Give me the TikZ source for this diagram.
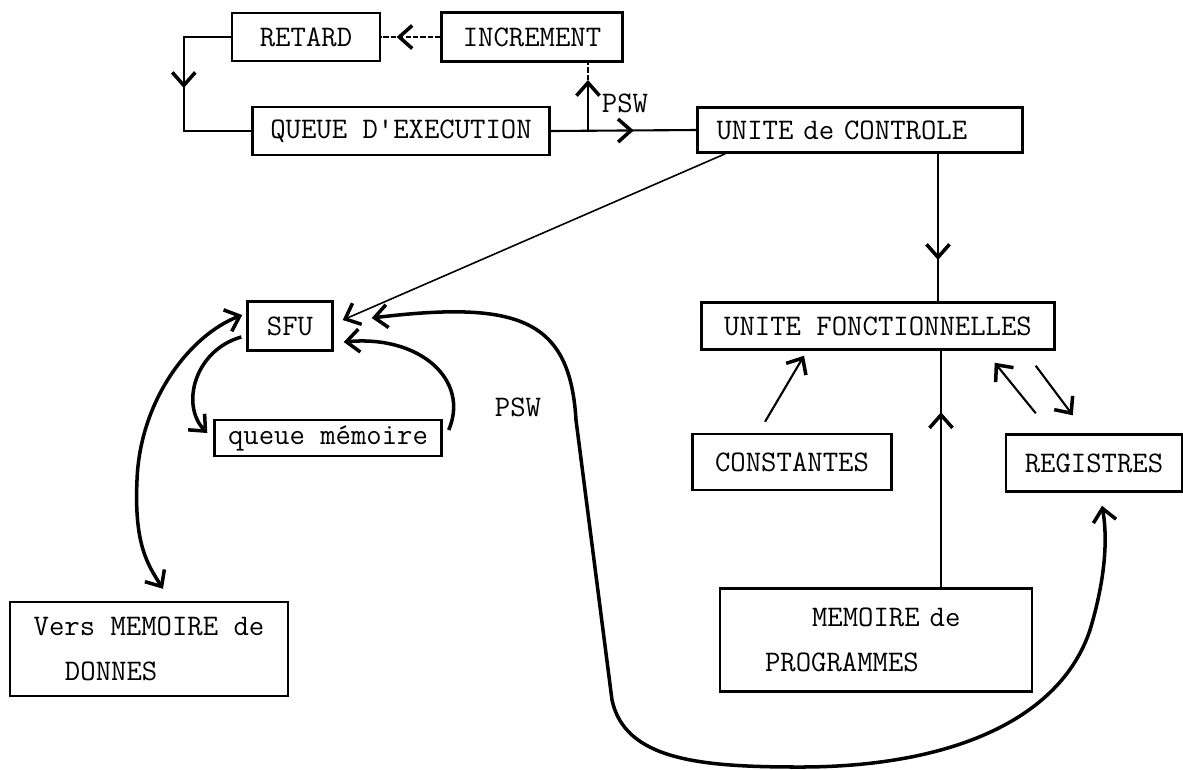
\documentclass[tikz,border=0pt]{standalone}
\usepackage{fontspec}
\usetikzlibrary{arrows.meta,calc,decorations.markings}

\begin{document}
\begin{tikzpicture}[x=0.02cm,y=-0.02cm,
  >={Straight Barb[length=2.6mm,width=4.6mm,line width=2pt]},
  bloc/.style={draw,line width=1.4pt,inner sep=0pt,font=\fontsize{17}{26}\ttfamily},
  etiq/.style={inner sep=0pt,font=\fontsize{17}{26}\ttfamily},
  lien/.style={line width=1.2pt},
  courbe/.style={line width=2pt},
  pointille/.style={line width=0.6pt,dash pattern=on 3pt off 1.2pt},
  flechemil/.style={decoration={markings,mark=at position #1 with {\arrow{>}}},postaction={decorate}}]

\useasboundingbox (0,0) rectangle (1183,769);

\node[bloc,minimum width=2.96cm,minimum height=0.96cm] (retard) at (306,37) {RETARD};
\node[bloc,minimum width=3.62cm,minimum height=0.98cm] (increment) at (532,37) {INCREMENT};
\node[bloc,minimum width=5.94cm,minimum height=0.96cm] (queue) at (401,131) {QUEUE D'EXECUTION};
\node[bloc,minimum width=6.5cm,minimum height=0.9cm,text width=5.74cm,align=left] (controle) at (860,130) {UNITE de CONTROLE};

\node[bloc,minimum width=1.7cm,minimum height=0.98cm] (sfu) at (290,326) {SFU};
\node[bloc,minimum width=4.54cm,minimum height=0.72cm] (qmem) at (328,438) {queue mémoire};
\node[bloc,minimum width=5.56cm,minimum height=1.88cm,align=left] (donnes) at (149,649) {Vers MEMOIRE de\\\hspace*{1.05em}DONNES};

\node[bloc,minimum width=7.06cm,minimum height=0.94cm] (uf) at (878,326) {UNITE FONCTIONNELLES};
\node[bloc,minimum width=3.98cm,minimum height=1.12cm] (cst) at (792,462) {CONSTANTES};
\node[bloc,minimum width=3.52cm,minimum height=1.14cm] (reg) at (1094,463) {REGISTRES};
\node[bloc,minimum width=6.24cm,minimum height=2.06cm,text width=4.44cm,align=left] (memprog) at (876,640) {\hspace*{1.575em}MEMOIRE de\\PROGRAMMES};

\node[etiq] (psw1) at (625,103) {PSW};
\node[etiq] (psw2) at (518,407) {PSW};

\coordinate (embr) at (588,131);
\coordinate (pointe) at (588,80);
\coordinate (axe) at (938,0);
\coordinate (axe2) at (941,0);

\draw[pointille,flechemil=0.74] (increment.west) -- (retard.east);
\draw[lien,flechemil=0.47] (retard.west) -- ++(-47,0) |- (queue.west);
\draw[lien,flechemil=0.57] (queue.east) -- (controle.west);
\draw[lien,->] (embr) -- (pointe);
\draw[pointille] (pointe) -- (pointe |- increment.south);

\draw[line width=0.9pt,->] ([xshift=0.58cm]controle.south west) -- ($(sfu.east)+(9,-6)$);
\draw[lien,flechemil=0.72] (axe |- controle.south) -- (axe |- uf.north);
\draw[lien,flechemil=0.74] (axe2 |- memprog.north) -- (axe2 |- uf.south);

\draw[lien,->] ($(cst.north)+(-27,-11)$) -- ($(uf.south)+(-74,5)$);
\draw[lien,->] ($(reg.north west)+(31,-20)$) -- ($(uf.south east)+(-61,12)$);
\draw[lien,->] ($(uf.south east)+(-20,15)$) -- ($(reg.north west)+(68,-18)$);

\draw[courbe,<->] ($(sfu.west)+(-4,-11)$) .. controls (190,335) and (140,400) .. (137,480)
  .. controls (134,545) and (148,565) .. ($(donnes.north)+(14,-12)$);
\draw[courbe,->] ($(sfu.west)+(-5,11)$) .. controls (195,350) and (180,405) .. ($(qmem.west)+(-6,-5)$);
\draw[courbe,->] ($(qmem.east)+(6,-8)$) .. controls (470,380) and (420,335) .. ($(sfu.east)+(10,16)$);

\draw[courbe,<->] ($(sfu.east)+(38,-8)$) .. controls (520,300) and (570,320) .. (576,420)
  -- (612,700)
  .. controls (625,760) and (700,767) .. (800,767)
  .. controls (950,767) and (1060,720) .. (1090,630)
  .. controls (1105,580) and (1108,540) .. ($(reg.south)+(8,13)$);

\end{tikzpicture}
\end{document}
